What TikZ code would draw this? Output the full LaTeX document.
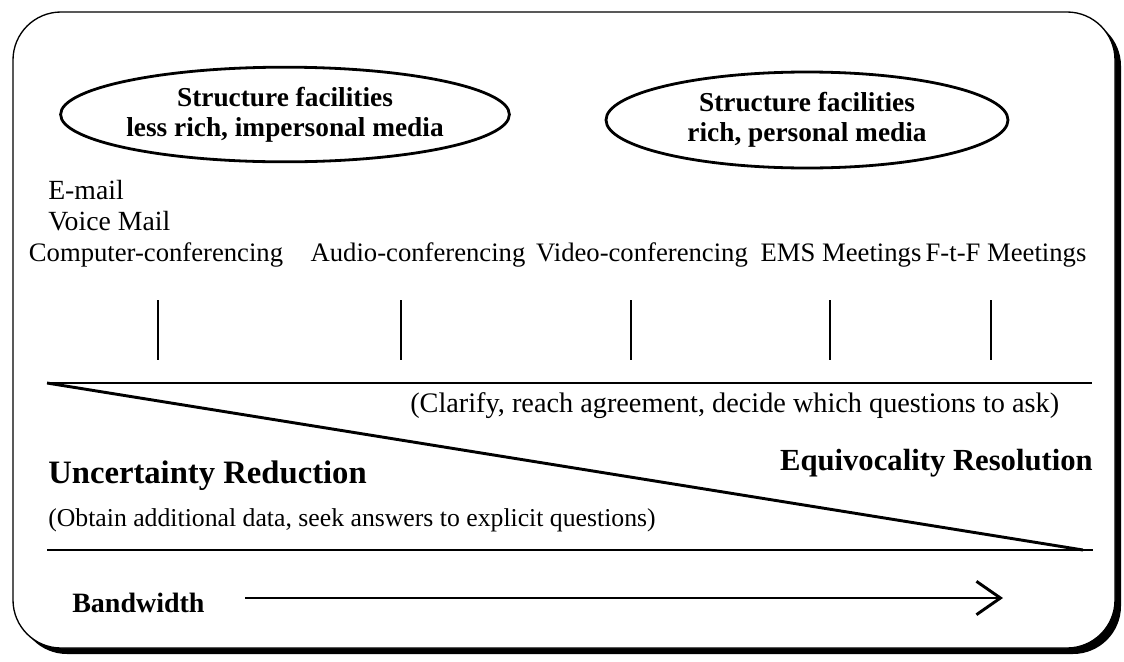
\documentclass[tikz,border=0pt]{standalone}
\usepackage{fontspec}
\setmainfont{Liberation Serif}
\usetikzlibrary{shapes.geometric,arrows.meta}
\begin{document}
\begin{tikzpicture}[x=0.75pt,y=-0.75pt,
  body/.style={font=\fontsize{20.8}{24}\selectfont, inner sep=0pt, anchor=base west},
  row/.style={font=\fontsize{20}{24}\selectfont, inner sep=0pt, anchor=base},
  head/.style={font=\fontsize{24}{28}\selectfont\bfseries, inner sep=0pt, anchor=base west},
  oval/.style={draw, ellipse, line width=2.1pt, inner sep=0pt, align=center,
     font=\fontsize{20.5}{22.5}\selectfont\bfseries},
  heavy/.style={line width=2.2pt},
  tick/.style={line width=1.6pt}]
\useasboundingbox (0,0) rectangle (1124,661);
% frame with shadow
\fill[black, rounded corners=36pt] (19,18) rectangle (1121,654);
\draw[fill=white, line width=1pt, rounded corners=36pt] (13,12) rectangle (1115,648);
% ovals
\node[oval, minimum width=303pt, minimum height=71pt] (o1) at (285,114.5)
  {Structure facilities\\less rich, impersonal media};
\node[oval, minimum width=301.5pt, minimum height=72pt] (o2) at (807,120)
  {Structure facilities\\rich, personal media};
% media labels
\node[body] (email) at (48,199) {E-mail};
\node[body] (vmail) at (48,230) {Voice Mail};
\node[row] (cc) at (156,261) {Computer-conferencing};
\node[row] (ac) at (418,261) {Audio-conferencing};
\node[row] (vc) at (642,261) {Video-conferencing};
\node[row] (ems) at (841,261) {EMS Meetings};
\node[row] (ftf) at (1006,261) {F-t-F Meetings};
% ticks
\foreach \n/\x in {1/158,2/401,3/631,4/830,5/991}{
  \coordinate (t\n a) at (\x,300);
  \coordinate (t\n b) at (\x,360);
  \draw[tick] (t\n a) -- (t\n b);
}
% wedge
\coordinate (TL) at (47,383);
\coordinate (TR) at (1092,383);
\coordinate (BL) at (47,550);
\coordinate (BR) at (1093,550);
\coordinate (DE) at (1083,550);
\draw[heavy] (TL) -- (TR);
\draw[heavy] (TL) -- (DE);
\draw[heavy] (BL) -- (BR);
% texts
\node[body, font=\fontsize{21.2}{24}\selectfont] (clar) at (410,412) {(Clarify, reach agreement, decide which questions to ask)};
\node[head, font=\fontsize{23}{28}\selectfont\bfseries, anchor=base east] (equ) at (1093,470) {Equivocality Resolution};
\node[head, font=\fontsize{24.5}{28}\selectfont\bfseries] (unc) at (48,483) {Uncertainty Reduction};
\node[body, font=\fontsize{19.3}{24}\selectfont] (obt) at (48,526) {(Obtain additional data, seek answers to explicit questions)};
% bandwidth
\node[head, font=\fontsize{21}{26}\selectfont\bfseries] (bw) at (72,612) {Bandwidth};
\coordinate (aS) at (245,598);
\coordinate (aE) at (1003,598);
\draw[heavy, -{Straight Barb[length=18pt,width=25pt]}] (aS) -- (aE);
\end{tikzpicture}
\end{document}
